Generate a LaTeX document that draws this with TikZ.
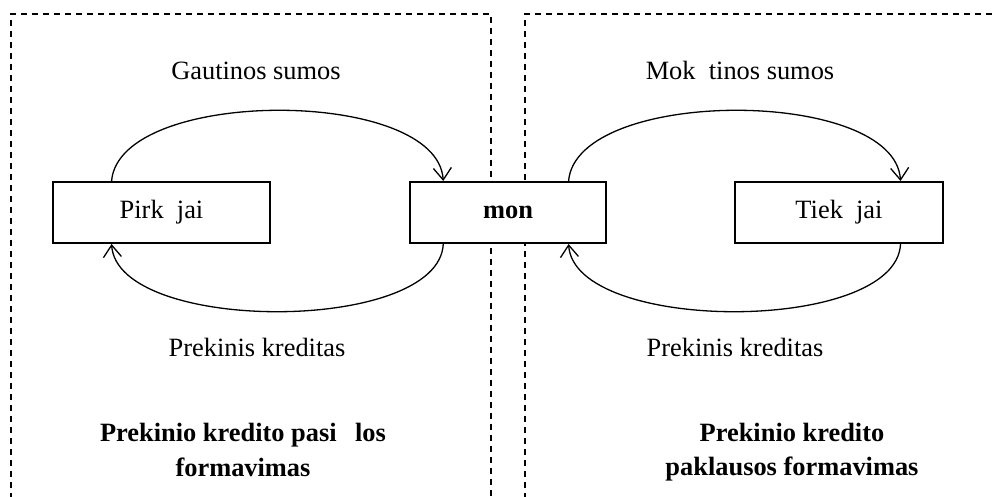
\documentclass[tikz,border=0pt]{standalone}
\usepackage{fontspec}
\setmainfont{Liberation Serif}
\usetikzlibrary{arrows.meta,calc}
\tikzset{
  frame/.style={line width=0.7pt, dash pattern=on 3pt off 2.5pt},
  entity/.style={draw, fill=white, line width=1pt, rectangle, minimum height=30.5pt, inner sep=0pt, text height=9pt, text depth=2.6pt, font=\fontsize{13.2}{15}\selectfont},
  flow/.style={line width=0.65pt, -{Straight Barb[length=6pt,width=9pt,line width=0.65pt]}},
  lbl/.style={anchor=base, inner sep=0pt, font=\fontsize{13.2}{15}\selectfont},
  blbl/.style={anchor=base, inner sep=0pt, font=\fontsize{13.2}{15}\selectfont\bfseries}
}
\begin{document}
\begin{tikzpicture}[x=0.5pt,y=-0.5pt]
\useasboundingbox (0,0) rectangle (992,497);
\clip (0,0) rectangle (992,497);
% dashed frames
\draw[frame] (11,510) -- (11,14) -- (491,14) -- (491,510);
\draw[frame] (525,510) -- (525,14) -- (1010,14);
% entities
\node[entity, minimum width=108.5pt] (pirk) at (161.5,212.5) {Pirk\hspace{0.5em}jai};
\node[entity, minimum width=98pt] (mon) at (508,212.5) {\bfseries mon};
\node[entity, minimum width=104pt] (tiek) at (839,212.5) {Tiek\hspace{0.5em}jai};
% anchor coordinates
\coordinate (pT) at ($(pirk.north west)!0.272!(pirk.north east)$);
\coordinate (pB) at ($(pirk.south west)!0.272!(pirk.south east)$);
\coordinate (mTL) at ($(mon.north west)!0.173!(mon.north east)$);
\coordinate (mBL) at ($(mon.south west)!0.173!(mon.south east)$);
\coordinate (mTR) at ($(mon.north west)!0.806!(mon.north east)$);
\coordinate (mBR) at ($(mon.south west)!0.806!(mon.south east)$);
\coordinate (tT) at ($(tiek.north west)!0.793!(tiek.north east)$);
\coordinate (tB) at ($(tiek.south west)!0.793!(tiek.south east)$);
% flows
\draw[flow] (pT) .. controls ($(pT)+(8,-94)$) and ($(mTL)+(-6,-94)$) .. (mTL);
\draw[flow] (mBL) .. controls ($(mBL)+(-4,90)$) and ($(pB)+(6,90)$) .. (pB);
\draw[flow] (mTR) .. controls ($(mTR)+(8,-94)$) and ($(tT)+(-6,-94)$) .. (tT);
\draw[flow] (tB) .. controls ($(tB)+(-4,90)$) and ($(mBR)+(6,90)$) .. (mBR);
% labels
\node[lbl] (l1) at (256,80) {Gautinos sumos};
\node[lbl] (l2) at (740,80) {Mok\hspace{0.5em}tinos sumos};
\node[lbl] (l3) at (257,357) {Prekinis kreditas};
\node[lbl] (l4) at (735,357) {Prekinis kreditas};
\node[blbl] (t1) at (243,442) {Prekinio kredito pasi\hspace{0.7em}los};
\node[blbl] (t2) at (243,477) {formavimas};
\node[blbl] (t3) at (792,442) {Prekinio kredito};
\node[blbl] (t4) at (792,476) {paklausos formavimas};
\end{tikzpicture}
\end{document}
